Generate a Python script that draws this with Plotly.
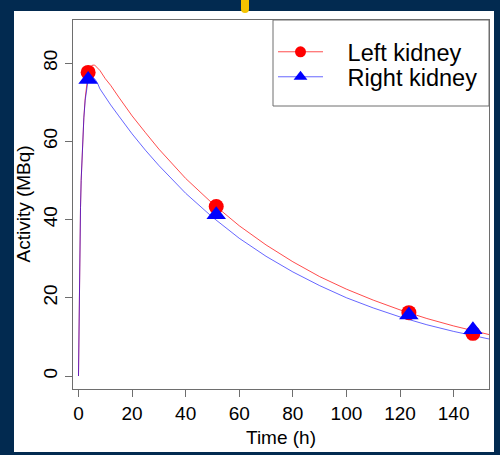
import plotly.graph_objects as go

# Time-activity curves (h, MBq)
t_curve = [0, 0.25, 0.5, 0.75, 1, 1.5, 2, 2.5, 3, 3.5, 4, 5, 6, 7, 8, 10, 12, 15,
           20, 25, 30, 40, 50, 60, 70, 80, 90, 100, 110, 120, 130, 140, 150, 155]
left_curve = [0, 22, 34, 43, 50, 60, 66, 71, 74.5, 76.8, 78.2, 79.4, 79.5, 78.9, 78.1,
              76.0, 74.3, 71.3, 66.5, 62.2, 58.0, 50.5, 44.1, 38.4, 33.5, 29.2, 25.4,
              22.2, 19.4, 16.9, 14.7, 12.8, 11.1, 10.3]
right_curve = [0, 22, 34, 43, 50, 60, 66, 70.5, 73.5, 75.2, 76.0, 76.5, 76.0, 75.0, 73.4,
               71.3, 69.3, 66.5, 61.9, 57.7, 53.8, 46.7, 40.6, 35.2, 30.6, 26.6, 23.1,
               20.0, 17.4, 15.1, 13.1, 11.4, 9.9, 9.2]

# Measured activities
t_meas = [3.6, 51.4, 123.3, 147.2]
left_meas = [77.6, 43.3, 16.2, 10.9]
right_meas = [75.8, 41.2, 15.6, 11.8]

x_ticks = [0, 20, 40, 60, 80, 100, 120, 140]
y_ticks = [0, 20, 40, 60, 80]

W, H = 500, 455
L, R, T, B = 73, 489, 20, 389  # plot area in pixels


def px(x):
    return (x - L) / (R - L)


def py(y):
    return (B - y) / (B - T)


RED_LINE = "rgba(255,0,0,0.7)"
BLUE_LINE = "rgba(0,0,255,0.6)"
FONT = "Liberation Sans, Arial, sans-serif"
GRAY = "#6e6e6e"
PAD = "\u00a0\u00a0\u00a0"

fig = go.Figure()
fig.add_trace(go.Scatter(x=t_curve, y=left_curve, mode="lines", line=dict(color=RED_LINE, width=1),
                         showlegend=False, hoverinfo="skip"))
fig.add_trace(go.Scatter(x=t_curve, y=right_curve, mode="lines", line=dict(color=BLUE_LINE, width=1),
                         showlegend=False, hoverinfo="skip"))
fig.add_trace(go.Scatter(x=t_meas, y=left_meas, mode="markers",
                         marker=dict(color="#ff0000", size=15, symbol="circle", line=dict(width=0)),
                         showlegend=False))
fig.add_trace(go.Scatter(x=t_meas, y=right_meas, mode="markers",
                         marker=dict(color="#0000ff", size=17, symbol="triangle-up", line=dict(width=0)),
                         showlegend=False))

# legend entries, one legend box each so the row spacing can be set
fig.add_trace(go.Scatter(x=[None], y=[None], mode="lines+markers", name=PAD + "Left kidney",
                         line=dict(color=RED_LINE, width=1), legend="legend",
                         marker=dict(color="#ff0000", size=11, symbol="circle")))
fig.add_trace(go.Scatter(x=[None], y=[None], mode="lines+markers", name=PAD + "Right kidney",
                         line=dict(color=BLUE_LINE, width=1), legend="legend2",
                         marker=dict(color="#0000ff", size=12, symbol="triangle-up")))

axis_common = dict(showgrid=False, zeroline=False, showline=True, mirror=True,
                   linecolor=GRAY, linewidth=1, ticks="outside", ticklen=7,
                   tickcolor=GRAY, tickwidth=1,
                   tickfont=dict(family=FONT, size=19, color="#000000"))

shapes = [
    # white panel
    dict(type="rect", xref="paper", yref="paper", x0=px(14), x1=px(494), y0=py(452), y1=py(11),
         fillcolor="#ffffff", line=dict(width=0), layer="below"),
    # gold tab at the top edge
    dict(type="rect", xref="paper", yref="paper", x0=px(241), x1=px(249), y0=py(9), y1=py(-2),
         fillcolor="#f5c400", line=dict(width=0), layer="below"),
    dict(type="circle", xref="paper", yref="paper", x0=px(241), x1=px(249), y0=py(13), y1=py(5),
         fillcolor="#f5c400", line=dict(width=0), layer="below"),
    # legend frame
    dict(type="rect", xref="paper", yref="paper", x0=px(273), x1=px(489), y0=py(106), y1=py(20),
         fillcolor="rgba(0,0,0,0)", line=dict(color=GRAY, width=1)),
]

annotations = [
    dict(text="Time (h)", xref="paper", yref="paper", x=0.5, y=py(437), xanchor="center",
         yanchor="middle", showarrow=False, font=dict(family=FONT, size=19, color="#000000")),
    dict(text="Activity (MBq)", xref="paper", yref="paper", x=px(23), y=0.5, xanchor="center",
         yanchor="middle", textangle=-90, showarrow=False,
         font=dict(family=FONT, size=19, color="#000000")),
]

legend_common = dict(xanchor="left", yanchor="top", bgcolor="rgba(0,0,0,0)", borderwidth=0,
                     font=dict(family=FONT, size=23.5, color="#000000"), itemwidth=45)

fig.update_layout(
    width=W, height=H,
    margin=dict(l=L, r=W - R, t=T, b=H - B),
    paper_bgcolor="#022a50",
    plot_bgcolor="#ffffff",
    xaxis=dict(range=[-2.05, 153.2], tickvals=x_ticks, **axis_common),
    yaxis=dict(range=[-3.32, 91.0], tickvals=y_ticks, tickangle=-90, **axis_common),
    shapes=shapes,
    annotations=annotations,
    legend=dict(x=px(273), y=py(30), **legend_common),
    legend2=dict(x=px(273), y=py(55), **legend_common),
    showlegend=True,
)

fig.write_html("out.html")
